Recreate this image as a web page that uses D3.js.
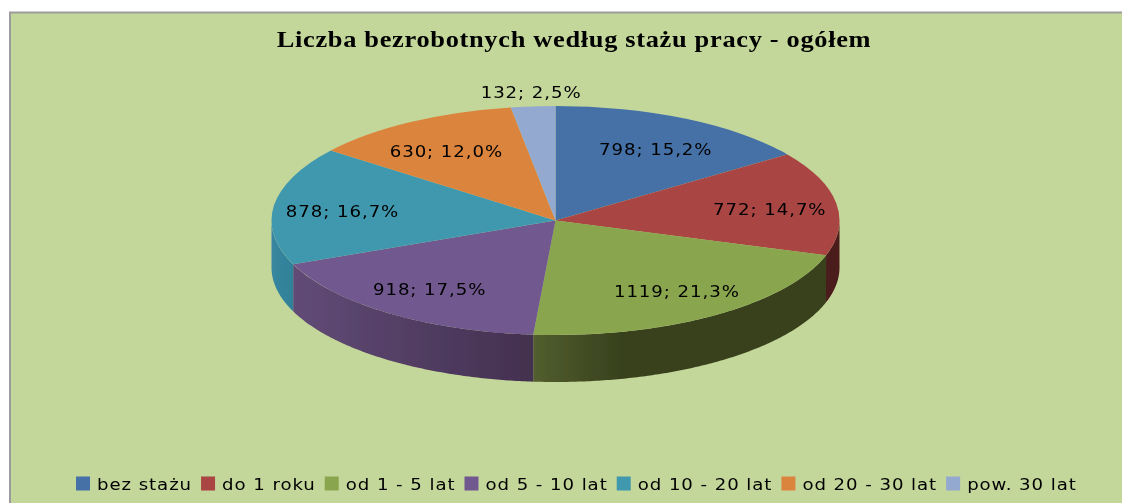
<!DOCTYPE html>
<html>
<head>
<meta charset="utf-8">
<script src="https://cdn.jsdelivr.net/npm/d3@7"></script>
<style>
html, body { margin: 0; padding: 0; background: #fff; overflow: hidden; }
svg { display: block; }
</style>
</head>
<body>
<div id="chart-area"></div>
<script>
var chartTitle = "Liczba bezrobotnych według stażu pracy - ogółem";
var categories = ["bez stażu", "do 1 roku", "od 1 - 5 lat", "od 5 - 10 lat", "od 10 - 20 lat", "od 20 - 30 lat", "pow. 30 lat"];
var values = [798, 772, 1119, 918, 878, 630, 132];
var colors = ["#4571a7", "#a94543", "#89a54e", "#71588f", "#4198af", "#db843d", "#93a9cf"];
var wallLeft = ["#2f5078", "#4b1b1b", "#525e2e", "#614b77", "#38869f", "#9a5c2a", "#6a7a96"];
var wallRight = ["#2f5078", "#4b1b1b", "#38411d", "#43304f", "#2f8199", "#9a5c2a", "#6a7a96"];

var width = 1122, height = 503;
var cx = 555.5, cy = 220.5, rx = 284, ry = 114.5, depth = 47;
var yScale = ry / rx;
// the reference text is stretched sideways and loosely spaced
var textStretch = 1.1;

var svg = d3.select("#chart-area").append("svg")
    .attr("width", width)
    .attr("height", height);

var defs = svg.append("defs");
defs.append("filter").attr("id", "soft")
    .append("feGaussianBlur").attr("stdDeviation", 0.35);

// frame, runs off the right and bottom edges
svg.append("rect")
    .attr("x", 10).attr("y", 12.5)
    .attr("width", width).attr("height", height)
    .attr("fill", "#c4d79b")
    .attr("stroke", "#9c9c9c")
    .attr("stroke-width", 2);

var chart = svg.append("g").attr("filter", "url(#soft)");

chart.append("text")
    .attr("transform", "translate(574,47) scale(" + textStretch + ",1)")
    .attr("text-anchor", "middle")
    .attr("font-family", "Liberation Serif")
    .attr("font-weight", "bold")
    .attr("font-size", 24)
    .attr("letter-spacing", 0.62)
    .attr("fill", "#000")
    .text(chartTitle);

var pie = d3.pie().sort(null).value(function(d){ return d; });
var slices = pie(values);
var total = d3.sum(values);
var pct = d3.formatLocale({decimal: ",", thousands: " ", grouping: [3], currency: ["", ""]}).format(".1%");

// side wall, only the front half of the ellipse shows
var wall = d3.area()
    .x(function(a){ return cx + rx * Math.sin(a); })
    .y0(function(a){ return cy - ry * Math.cos(a); })
    .y1(function(a){ return cy - ry * Math.cos(a) + depth; });

slices.forEach(function(s, i){
    var start = Math.max(s.startAngle, Math.PI / 2);
    var end = Math.min(s.endAngle, Math.PI * 1.5);
    if (end <= start) { return; }
    var steps = d3.range(start, end, 0.01).concat([end]);
    var xs = [cx + rx * Math.sin(start), cx + rx * Math.sin(end)];
    var grad = defs.append("linearGradient")
        .attr("id", "wall" + i)
        .attr("gradientUnits", "userSpaceOnUse")
        .attr("x1", d3.min(xs)).attr("x2", d3.max(xs))
        .attr("y1", 0).attr("y2", 0);
    grad.append("stop").attr("offset", 0).attr("stop-color", wallLeft[i]);
    grad.append("stop").attr("offset", i == 2 ? 0.3 : 1).attr("stop-color", wallRight[i]);
    chart.append("path")
        .attr("d", wall(steps))
        .attr("fill", "url(#wall" + i + ")");
});

// top face: a flat pie squashed into an ellipse
var arc = d3.arc().innerRadius(0).outerRadius(rx);
var topFace = chart.append("g")
    .attr("transform", "translate(" + cx + "," + cy + ") scale(1," + yScale + ")");
topFace.selectAll("path")
    .data(slices)
    .enter()
    .append("path")
        .attr("d", arc)
        .attr("fill", function(d, i){ return colors[i]; });

// data labels, small slices go outside
var labelInside = d3.arc().innerRadius(rx * 0.76).outerRadius(rx * 0.76);
var labelOutside = d3.arc().innerRadius(rx * 1.13).outerRadius(rx * 1.13);
chart.selectAll("text.label")
    .data(slices)
    .enter()
    .append("text")
        .attr("class", "label")
        .attr("transform", function(d){
            var small = d.value / total < 0.05;
            var c = (small ? labelOutside : labelInside).centroid(d);
            var y = small ? c[1] * yScale + 6 : c[1] * yScale * 0.95 + 7.5;
            return "translate(" + (cx + c[0] + 1) + "," + (cy + y) + ") scale(" + textStretch + ",1)";
        })
        .attr("text-anchor", "middle")
        .attr("font-family", "DejaVu Sans")
        .attr("font-size", 16.5)
        .attr("letter-spacing", 0.85)
        .attr("fill", "#000")
        .text(function(d){ return d.value + "; " + pct(d.value / total); });

// legend, laid out one entry after the other
var legendX = 76;
categories.forEach(function(name, i){
    var item = chart.append("g");
    item.append("rect")
        .attr("x", legendX).attr("y", 476.5)
        .attr("width", 14).attr("height", 14)
        .attr("fill", colors[i]);
    var label = item.append("text")
        .attr("transform", "translate(" + (legendX + 21) + ",490) scale(" + textStretch + ",1)")
        .attr("font-family", "DejaVu Sans")
        .attr("font-size", 16.5)
        .attr("letter-spacing", 0.85)
        .attr("fill", "#000")
        .text(name);
    legendX += 21 + label.node().getComputedTextLength() * textStretch + 9;
});
</script>
</body>
</html>
